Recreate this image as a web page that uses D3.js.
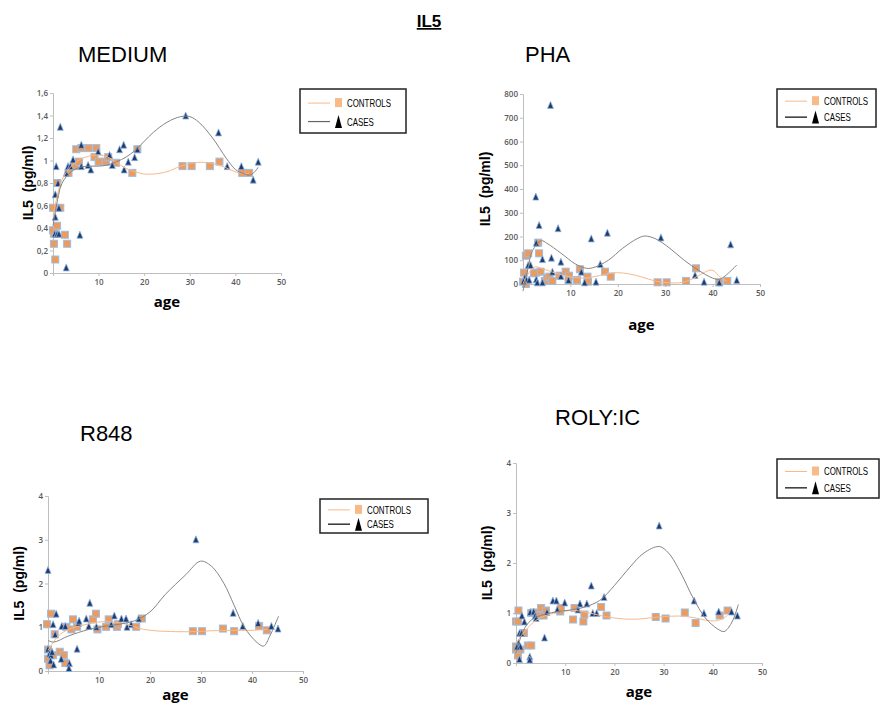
<!DOCTYPE html>
<html>
<head>
<meta charset="utf-8">
<script src="https://cdn.jsdelivr.net/npm/d3@7"></script>
<style>
  body { margin: 0; background: #fff; }
  svg { display: block; }
  .tick text { font-family: "Open Sans", "Liberation Sans", sans-serif; font-weight: 600; fill: #595959; }
</style>
</head>
<body>
<script>
// ---- data (age, IL5 pg/ml) ----

const xTicks = [0, 10, 20, 30, 40, 50];
const yTicksMedium = [0, 0.2, 0.4, 0.6, 0.8, 1, 1.2, 1.4, 1.6];
const yTicksPha = [0, 100, 200, 300, 400, 500, 600, 700, 800];
const yTicksR848 = [0, 1, 2, 3, 4];
const yTicksPoly = [0, 1, 2, 3, 4];

// MEDIUM
const mediumCases = [
  [1.6,1.30],[0.7,0.95],[0.5,0.70],[0.5,0.50],[1.1,0.80],[1.3,0.58],[0.4,0.35],[0.9,0.35],[1.3,0.35],
  [2.9,0.05],[2.9,0.89],[3.3,0.95],[3.8,0.95],[4.4,1.01],[5.9,0.34],[6.2,1.14],[6.2,0.95],[7.7,0.96],
  [8.3,0.92],[9.9,1.08],[12.4,1.05],[13.0,0.96],[14.6,1.10],[15.5,1.14],[15.6,0.92],[16.5,0.99],
  [17.9,1.03],[18.5,1.10],[29.1,1.40],[36.3,1.25],[38.2,0.95],[41.3,0.95],[43.9,0.83],[45.0,0.99]
];
const mediumControls = [
  [0,0.58],[0.2,0.35],[0,0.38],[0.2,0.26],[0.5,0.12],[0.9,0.42],[0.9,0.80],[1.6,0.58],[2.6,0.34],
  [3.1,0.26],[3.4,0.89],[4.8,0.95],[5.1,1.10],[5.7,0.99],[6.2,1.11],[7.8,1.11],[9.1,1.03],[9.5,1.11],
  [10.0,0.99],[11.6,0.99],[12.1,1.03],[13.8,0.98],[17.4,0.89],[18.5,1.10],[28.4,0.95],[30.4,0.95],
  [34.4,0.95],[36.5,0.99],[41.5,0.89],[43.0,0.89]
];
const mediumCasesTrend = [
  [0,0.42],[1,0.65],[2,0.8],[4,0.9],[6,0.94],[8,0.95],[10,0.95],[12,0.96],[14,0.99],[16,1.03],[18,1.09],
  [20,1.17],[22,1.25],[25,1.34],[28,1.39],[30,1.39],[32,1.34],[35,1.2],[38,1.02],[40,0.92],[42,0.88],
  [43,0.87],[44,0.89],[45,0.94]
];
const mediumControlsTrend = [
  [0,0.5],[1,0.7],[2,0.83],[4,0.95],[6,1.01],[8,1.04],[10,1.05],[12,1.03],[14,0.98],[16,0.93],[18,0.9],
  [20,0.88],[22,0.88],[25,0.9],[28,0.95],[31,0.98],[34,0.98],[37,0.95],[40,0.9],[42,0.88],[43,0.89]
];

// PHA
const phaCases = [
  [5.8,754],[2.7,368],[3.4,248],[7.4,235],[14.4,192],[17.8,216],[29.1,196],[43.8,167],[2.8,174],
  [6.0,111],[4.1,105],[8.0,94],[1.1,80],[1.6,80],[6.2,52],[12.3,52],[16.3,84],[36.3,38],[0.4,28],
  [0.7,20],[1.3,18],[2.8,20],[3.0,7],[4.1,7],[8.0,34],[9.6,17],[13.0,7],[15.4,10],[38.2,10],[41.4,7],
  [45.1,17],[0.1,12]
];
const phaControls = [
  [0.6,119],[1.1,129],[0.2,48],[0,10],[0.6,0],[3.2,174],[3.4,129],[2.8,48],[3.7,52],[2.3,45],[4.6,13],
  [5.1,27],[5.6,31],[6.2,13],[7.7,35],[9.0,52],[9.7,35],[9.6,17],[11.4,17],[12.0,62],[13.6,31],
  [13.7,10],[17.3,52],[18.5,31],[28.4,7],[30.3,7],[34.4,13],[36.5,66],[41.4,7],[43.1,13]
];
const phaCasesTrend = [
  [0,-30],[1,60],[2,140],[3.9,182],[5,172],[8,130],[11,85],[13.4,66],[15,70],[18,100],[21,150],[24,190],
  [25.7,202],[28,190],[31,150],[34,100],[37,58],[40,25],[41.5,20],[43,40],[45.1,80]
];
const phaControlsTrend = [
  [0,0],[1,40],[2.5,72],[4,65],[7,45],[10,30],[13,25],[16,35],[19,47],[22,44],[25,30],[28,12],[31,5],
  [33,5],[35,15],[37,35],[39.4,58],[40.3,55],[41.5,30],[43,12]
];

// R848
const r848Cases = [
  [0,2.31],[1.6,1.31],[1.0,1.07],[1.4,0.84],[2.7,1.03],[3.4,1.03],[5.7,0.51],[6.0,1.10],[6.1,1.15],
  [7.5,1.20],[8.0,1.03],[8.2,1.56],[9.5,1.01],[12.4,1.07],[13.0,1.27],[14.4,1.2],[15.3,1.2],[15.5,1.01],
  [16.3,1.07],[17.8,1.2],[29.0,3.01],[36.3,1.33],[38.2,1.03],[41.2,1.10],[43.8,1.03],[45.1,0.97],
  [0,0.51],[0.3,0.40],[0.6,0.36],[0.5,0.24],[0.8,0.44],[1.1,0.15],[2.6,0.28],[4.2,0.18],[4.1,0.07]
];
const r848Controls = [
  [-0.2,1.07],[0.6,1.31],[1.3,0.84],[0,0.49],[0,0.28],[0.3,0.13],[1.0,0.36],[2.3,0.44],[3.1,0.36],
  [3.4,0.18],[3.6,1.01],[4.6,0.95],[4.9,1.18],[5.7,1.01],[8.8,1.18],[9.4,1.31],[9.7,0.95],[11.4,1.01],
  [11.9,1.18],[13.5,1.01],[13.7,1.07],[17.3,1.01],[18.4,1.2],[28.4,0.91],[30.2,0.91],[34.3,0.97],
  [36.5,0.91],[41.4,1.03],[42.9,0.93]
];
const r848CasesTrend = [
  [0,0.7],[1.1,0.66],[4,0.8],[8,0.95],[11,1.02],[14,1.07],[17,1.15],[20,1.35],[23,1.75],[27,2.2],
  [29.9,2.51],[32,2.4],[34.5,2.0],[36.5,1.5],[38.5,1.0],[41,0.65],[42.3,0.57],[43.5,0.8],[45.2,1.25]
];
const r848ControlsTrend = [
  [0,0.47],[2,0.8],[4,0.95],[7,1.05],[10,1.12],[13,1.12],[16,1.05],[18,0.97],[21,0.92],[25,0.9],
  [29,0.9],[32,0.92],[36,0.93],[40,0.93],[43,0.95]
];

// POLY:IC
const polyCases = [
  [29.1,2.75],[15.3,1.55],[7.5,1.25],[8.2,1.25],[9.9,1.21],[13.0,1.19],[14.4,1.19],[17.9,1.32],
  [15.6,1.0],[16.4,1.0],[12.6,1.07],[5.8,0.51],[2.9,1.02],[3.6,1.03],[3.9,0.95],[4.1,0.9],[6.3,1.02],
  [8.4,1.07],[1.2,0.95],[1.7,0.83],[0.5,0.4],[0.9,0.33],[0.2,0.33],[0.7,0.08],[2.8,0.13],[2.8,0.07],
  [0.7,0.6],[1.1,0.6],[36.2,1.25],[38.2,1.0],[41.2,1.03],[43.8,1.03],[45.0,0.95]
];
const polyControls = [
  [0,0.83],[0.4,0.83],[0.5,1.05],[0,0.33],[0,0.27],[0.4,0.15],[0.9,0.27],[1.6,0.6],[2.4,0.35],[3.1,0.35],
  [3.1,1.0],[3.8,1.01],[4.6,0.95],[5.1,1.1],[5.6,0.95],[6.1,1.05],[9.0,1.03],[9.1,1.1],[11.6,0.87],
  [11.9,1.1],[13.7,0.83],[13.9,0.97],[17.3,1.12],[18.4,0.95],[28.4,0.92],[30.4,0.89],[34.3,1.01],
  [36.5,0.8],[41.4,0.95],[43.0,1.05]
];
const polyCasesTrend = [
  [0,0.2],[1.5,0.65],[3,0.85],[5,0.95],[8,1.02],[11,1.06],[14,1.12],[17,1.25],[20,1.55],[23,1.9],
  [26,2.2],[29.1,2.33],[31,2.2],[33.5,1.8],[36,1.3],[38.5,0.9],[41,0.68],[42.3,0.63],[43.8,0.8],[45.2,1.17]
];
const polyControlsTrend = [
  [0,0.4],[1.5,0.6],[4,0.85],[7,0.98],[10,1.04],[12,1.05],[15,1.0],[18,0.93],[22,0.88],[25,0.88],
  [29,0.92],[33,0.94],[36,0.91],[39,0.85],[41,0.85],[43,0.95]
];

const panels = [
  { title: "MEDIUM", tx: 78, ty: 62, x0: 53, x1: 281, y0: 273, y1: 93, yMax: 1.6, yTicks: yTicksMedium,
    fmt: d => String(+d.toFixed(1)).replace(".", ","), ylx: 28, agey: 307,
    cases: mediumCases, controls: mediumControls, casesTrend: mediumCasesTrend, controlsTrend: mediumControlsTrend,
    legend: { x: 300, y: 89, w: 106, h: 44, line: "#666" } },
  { title: "PHA", tx: 525, ty: 62, x0: 523, x1: 760, y0: 284, y1: 94, yMax: 800, yTicks: yTicksPha,
    fmt: d => d, ylx: 485, agey: 330,
    cases: phaCases, controls: phaControls, casesTrend: phaCasesTrend, controlsTrend: phaControlsTrend,
    legend: { x: 777, y: 89, w: 99, h: 38, line: "#000" } },
  { title: "R848", tx: 80, ty: 441, x0: 48, x1: 303, y0: 671, y1: 496, yMax: 4, yTicks: yTicksR848,
    fmt: d => d, ylx: 19, agey: 700,
    cases: r848Cases, controls: r848Controls, casesTrend: r848CasesTrend, controlsTrend: r848ControlsTrend,
    legend: { x: 320, y: 499, w: 108, h: 34, line: "#000" } },
  { title: "ROLY:IC", tx: 555, ty: 425, x0: 516, x1: 762, y0: 663, y1: 463, yMax: 4, yTicks: yTicksPoly,
    fmt: d => d, ylx: 487, agey: 697,
    cases: polyCases, controls: polyControls, casesTrend: polyCasesTrend, controlsTrend: polyControlsTrend,
    legend: { x: 777, y: 459, w: 102, h: 39, line: "#000" } }
];

const svg = d3.select("body").append("svg")
    .attr("width", 880)
    .attr("height", 707);

// main title
svg.append("text")
    .attr("x", 429).attr("y", 27)
    .attr("text-anchor", "middle")
    .style("font-family", "Liberation Sans, Arial, sans-serif")
    .style("font-size", "17px")
    .style("font-weight", "bold")
    .style("text-decoration", "underline")
    .text("IL5");

const triangle = (w, h) => `M0,${-h/2}L${w/2},${h/2}L${-w/2},${h/2}Z`;

panels.forEach(p => {
    const x = d3.scaleLinear().domain([0, 50]).range([p.x0, p.x1]);
    const y = d3.scaleLinear().domain([0, p.yMax]).range([p.y0, p.y1]);

    // panel title
    svg.append("text")
        .attr("x", p.tx).attr("y", p.ty)
        .style("font-family", "Liberation Sans, Arial, sans-serif")
        .style("font-size", "22px")
        .text(p.title);

    // axes
    const xAxis = svg.append("g")
        .attr("transform", `translate(0,${p.y0})`)
        .call(d3.axisBottom(x).tickValues(xTicks).tickSize(3).tickPadding(3)
            .tickFormat(d => d === 0 ? "" : d));
    const yAxis = svg.append("g")
        .attr("transform", `translate(${p.x0},0)`)
        .call(d3.axisLeft(y).tickValues(p.yTicks).tickSize(3).tickPadding(2).tickFormat(p.fmt));
    [xAxis, yAxis].forEach(a => {
        a.select(".domain").attr("stroke", "#bfbfbf");
        a.selectAll(".tick line").attr("stroke", "#bfbfbf");
        a.selectAll(".tick text").style("font-size", "8px");
    });

    // axis labels
    svg.append("text")
        .attr("transform", `translate(${p.ylx},${(p.y0 + p.y1) / 2}) rotate(-90)`)
        .attr("text-anchor", "middle")
        .attr("dy", "0.35em")
        .style("font-family", "Liberation Sans, Arial, sans-serif")
        .style("font-size", "14px")
        .style("font-weight", "bold")
        .style("white-space", "pre")
        .text("IL5  (pg/ml)");
    svg.append("text")
        .attr("x", (p.x0 + p.x1) / 2).attr("y", p.agey)
        .attr("text-anchor", "middle")
        .style("font-family", "Open Sans, Liberation Sans, sans-serif")
        .style("font-size", "15px")
        .style("font-weight", "bold")
        .text("age");

    const line = d3.line().x(d => x(d[0])).y(d => y(d[1])).curve(d3.curveCatmullRom);

    // markers
    svg.append("g").selectAll("rect")
        .data(p.controls)
        .join("rect")
        .attr("x", d => x(d[0]) - 3.5)
        .attr("y", d => y(d[1]) - 3.5)
        .attr("width", 7).attr("height", 7)
        .attr("fill", "#ee9a5a")
        .attr("stroke", "#9dbde3")
        .attr("stroke-width", 1);

    svg.append("g").selectAll("path")
        .data(p.cases)
        .join("path")
        .attr("transform", d => `translate(${x(d[0])},${y(d[1])})`)
        .attr("d", triangle(6, 7))
        .attr("fill", "#1f3b6e")
        .attr("stroke", "#8fb4de")
        .attr("stroke-width", 0.8);

    // trend lines
    svg.append("path")
        .datum(p.controlsTrend)
        .attr("fill", "none")
        .attr("stroke", "#f7b98a")
        .attr("stroke-width", 1)
        .attr("d", line);
    svg.append("path")
        .datum(p.casesTrend)
        .attr("fill", "none")
        .attr("stroke", "#858585")
        .attr("stroke-width", 1)
        .attr("d", line);

    // legend
    const L = p.legend;
    const g = svg.append("g").attr("transform", `translate(${L.x},${L.y})`);
    g.append("rect")
        .attr("width", L.w).attr("height", L.h)
        .attr("fill", "#fff")
        .attr("stroke", "#222")
        .attr("stroke-width", 1.5);
    const r1 = L.h * 0.32, r2 = L.h * 0.74;
    g.append("line").attr("x1", 8).attr("x2", 30).attr("y1", r1).attr("y2", r1)
        .attr("stroke", "#f7b98a").attr("stroke-width", 1);
    g.append("rect").attr("x", 35).attr("y", r1 - 5).attr("width", 7).attr("height", 9)
        .attr("fill", "#f8bb88");
    g.append("line").attr("x1", 8).attr("x2", 30).attr("y1", r2).attr("y2", r2)
        .attr("stroke", L.line).attr("stroke-width", 1.2);
    g.append("path").attr("transform", `translate(38.5,${r2})`)
        .attr("d", triangle(7, 13)).attr("fill", "#000");
    // condensed legend text: squeeze horizontally
    [["CONTROLS", r1], ["CASES", r2]].forEach(([t, yy]) => {
        g.append("text")
            .attr("transform", `translate(47,${yy + 4}) scale(0.72,1)`)
            .style("font-family", "Liberation Sans, Arial, sans-serif")
            .style("font-size", "11px")
            .text(t);
    });
});
</script>
</body>
</html>
